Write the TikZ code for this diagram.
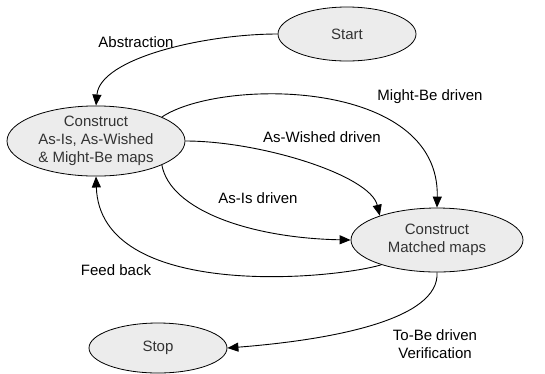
\documentclass[tikz,border=0pt]{standalone}
\usepackage{fontspec}
\setmainfont{Liberation Sans}
\usetikzlibrary{shapes.geometric,arrows.meta}

\tikzset{
    state/.style={ellipse, draw, line width=0.8pt, fill=gray!15, inner sep=0pt,
        text=black!80, align=center, font=\fontsize{15}{18}\selectfont},
    flow/.style={-{Triangle[length=11pt,width=9pt]}, line width=0.9pt},
    edgetext/.style={align=center, font=\fontsize{15}{18}\selectfont}
}

\begin{document}
\begin{tikzpicture}[x=1pt,y=-1pt]
    \useasboundingbox (0,0) rectangle (545,373);

    % States
    \node[state, minimum width=138pt, minimum height=54pt] (start) at (347,34) {Start};
    \node[state, minimum width=178pt, minimum height=66pt] (maps) at (96,141)
        {Construct\\As-Is, As-Wished\\\& Might-Be maps};
    \node[state, minimum width=172pt, minimum height=64pt] (matched) at (437,240)
        {Construct\\Matched maps};
    \node[state, minimum width=138pt, minimum height=50pt] (stop) at (158,348) {Stop};

    % Transitions
    \draw[flow] (start.west) .. controls (205,34) and (100,58) .. (maps.north);
    \draw[flow] (maps.20) .. controls (220,78) and (440,78) .. (matched.north);
    \draw[flow] (maps.east) .. controls (260,141) and (370,175) .. (matched.157);
    \draw[flow] (maps.-20) .. controls (170,210) and (250,238) .. (matched.west);
    \draw[flow] (matched.204) .. controls (330,280) and (100,300) .. (maps.south);
    \draw[flow] (matched.south) .. controls (440,320) and (330,340) .. (stop.east);

    % Labels
    \node[edgetext] (abstr) at (136,42) {Abstraction};
    \node[edgetext] (mightbe) at (430,97) {Might-Be driven};
    \node[edgetext] (aswished) at (322,137) {As-Wished driven};
    \node[edgetext] (asis) at (258,198) {As-Is driven};
    \node[edgetext] (feedback) at (116,270) {Feed back};
    \node[edgetext] (tobe) at (435,344) {To-Be driven\\Verification};
\end{tikzpicture}
\end{document}
